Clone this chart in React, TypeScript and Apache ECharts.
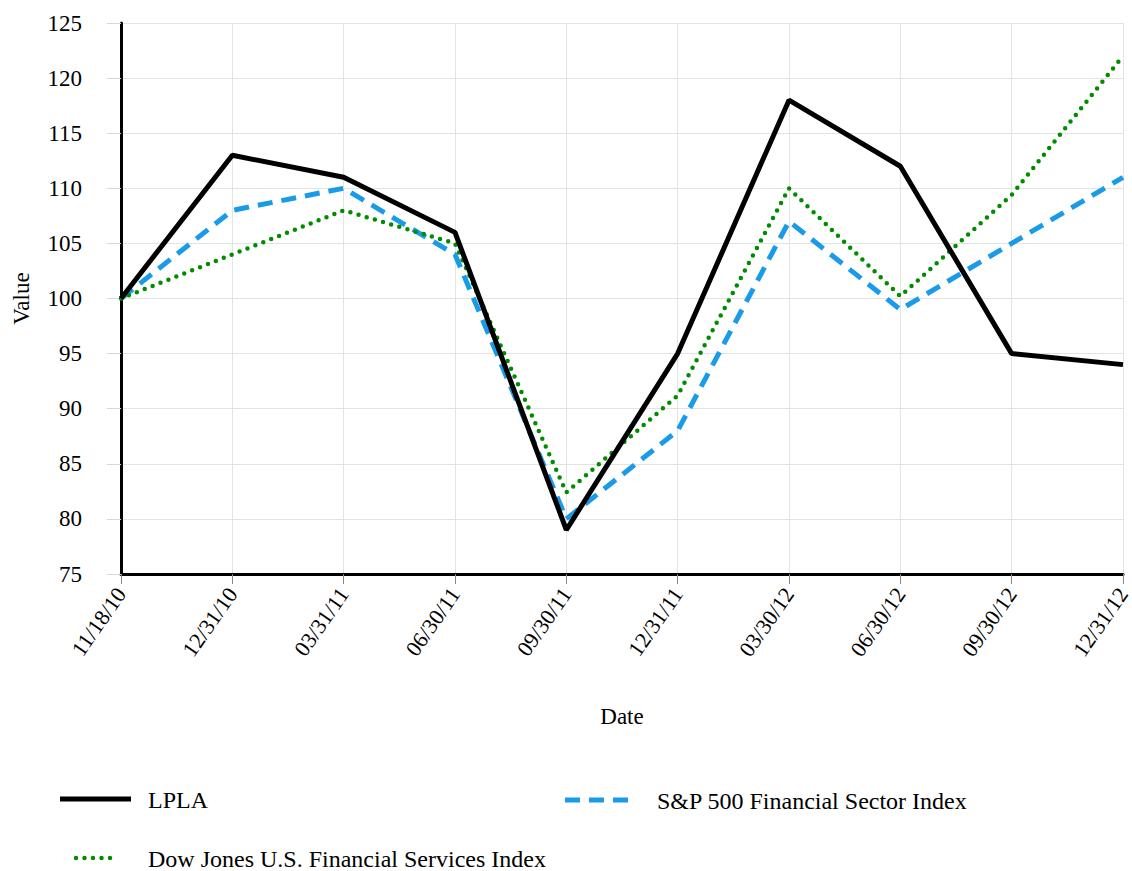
import React, { useEffect, useRef } from "react";
import * as echarts from "echarts";

const categories = ["11/18/10", "12/31/10", "03/31/11", "06/30/11", "09/30/11", "12/31/11", "03/30/12", "06/30/12", "09/30/12", "12/31/12"];
const lpla = [100, 113, 111, 106, 79, 95, 118, 112, 95, 94];
const sp500 = [100, 108, 110, 104, 80, 88, 107, 99, 105, 111];
const dowJones = [100, 104, 108, 105, 82.4, 91.2, 110, 100.2, 109.4, 122];
const seriesNames = ["LPLA", "S&P 500 Financial Sector Index", "Dow Jones U.S. Financial Services Index"];

const FONT = "'Liberation Serif', 'Times New Roman', serif";

export default function App() {
  const ref = useRef<HTMLDivElement>(null);
  useEffect(() => {
    if (!ref.current) return;
    const chart = echarts.init(ref.current, null, { renderer: "svg" });
    const styles = [
      { color: "#000000", width: 5, type: "solid" as any, cap: "butt" },
      { color: "#1a9be8", width: 5, type: [15, 9] as any, cap: "butt" },
      { color: "#008c00", width: 4.5, type: [0, 8.5] as any, cap: "round" },
    ];
    const data = [lpla, sp500, dowJones];
    const legendPos = [
      { x1: 60, x2: 131, y: 799, tx: 148 },
      { x1: 565, x2: 636, y: 800, tx: 657 },
      { x1: 76, x2: 116, y: 858, tx: 148 },
    ];
    const graphic: any[] = [];
    seriesNames.forEach((n, i) => {
      const p = legendPos[i];
      graphic.push({
        type: "line",
        shape: { x1: p.x1, y1: p.y, x2: p.x2, y2: p.y },
        style: { stroke: styles[i].color, lineWidth: styles[i].width, lineDash: styles[i].type === "solid" ? null : styles[i].type, lineCap: styles[i].cap },
      });
      graphic.push({
        type: "text",
        x: p.tx,
        y: p.y + 1,
        style: { text: n, fontFamily: FONT, fontSize: 24, fill: "#000", verticalAlign: "middle", textAlign: "left" },
      });
    });
    const order = [1, 2, 0];
    chart.setOption({
      animation: false,
      backgroundColor: "#ffffff",
      grid: { left: 121, right: 9, top: 23, bottom: 297, containLabel: false, outerBoundsMode: "none" },
      xAxis: {
        type: "category",
        data: categories,
        boundaryGap: false,
        name: "Date",
        nameLocation: "middle",
        nameGap: 131,
        nameTextStyle: { fontFamily: FONT, fontSize: 23, color: "#000" },
        axisLine: { show: true, onZero: false, lineStyle: { color: "#000", width: 3 } },
        axisTick: { show: true, length: 10, lineStyle: { color: "#888", width: 1 } },
        axisLabel: { rotate: 55, margin: 16, fontFamily: FONT, fontSize: 22, color: "#000", hideOverlap: false },
        splitLine: { show: true, lineStyle: { color: "#e3e3e3", width: 1 } },
      },
      yAxis: {
        type: "value",
        min: 75,
        max: 125,
        interval: 5,
        name: "Value",
        nameLocation: "middle",
        nameGap: 88,
        nameRotate: 90,
        nameTextStyle: { fontFamily: FONT, fontSize: 23, color: "#000" },
        axisLine: { show: true, lineStyle: { color: "#000", width: 3 } },
        axisTick: { show: true, length: 14, lineStyle: { color: "#d8d8d8", width: 1 } },
        axisLabel: { margin: 39, fontFamily: FONT, fontSize: 23, color: "#000" },
        splitLine: { show: true, lineStyle: { color: "#e3e3e3", width: 1 } },
      },
      series: order.map((i) => ({
        name: seriesNames[i],
        type: "line",
        data: data[i],
        symbol: "none",
        smooth: false,
        z: i === 0 ? 5 : 3,
        lineStyle: { color: styles[i].color, width: styles[i].width, type: styles[i].type, cap: styles[i].cap },
      })),
      graphic,
    });
    return () => chart.dispose();
  }, []);
  return <div ref={ref} style={{ position: "absolute", left: 0, top: 0, width: 1132, height: 871 }} />;
}
